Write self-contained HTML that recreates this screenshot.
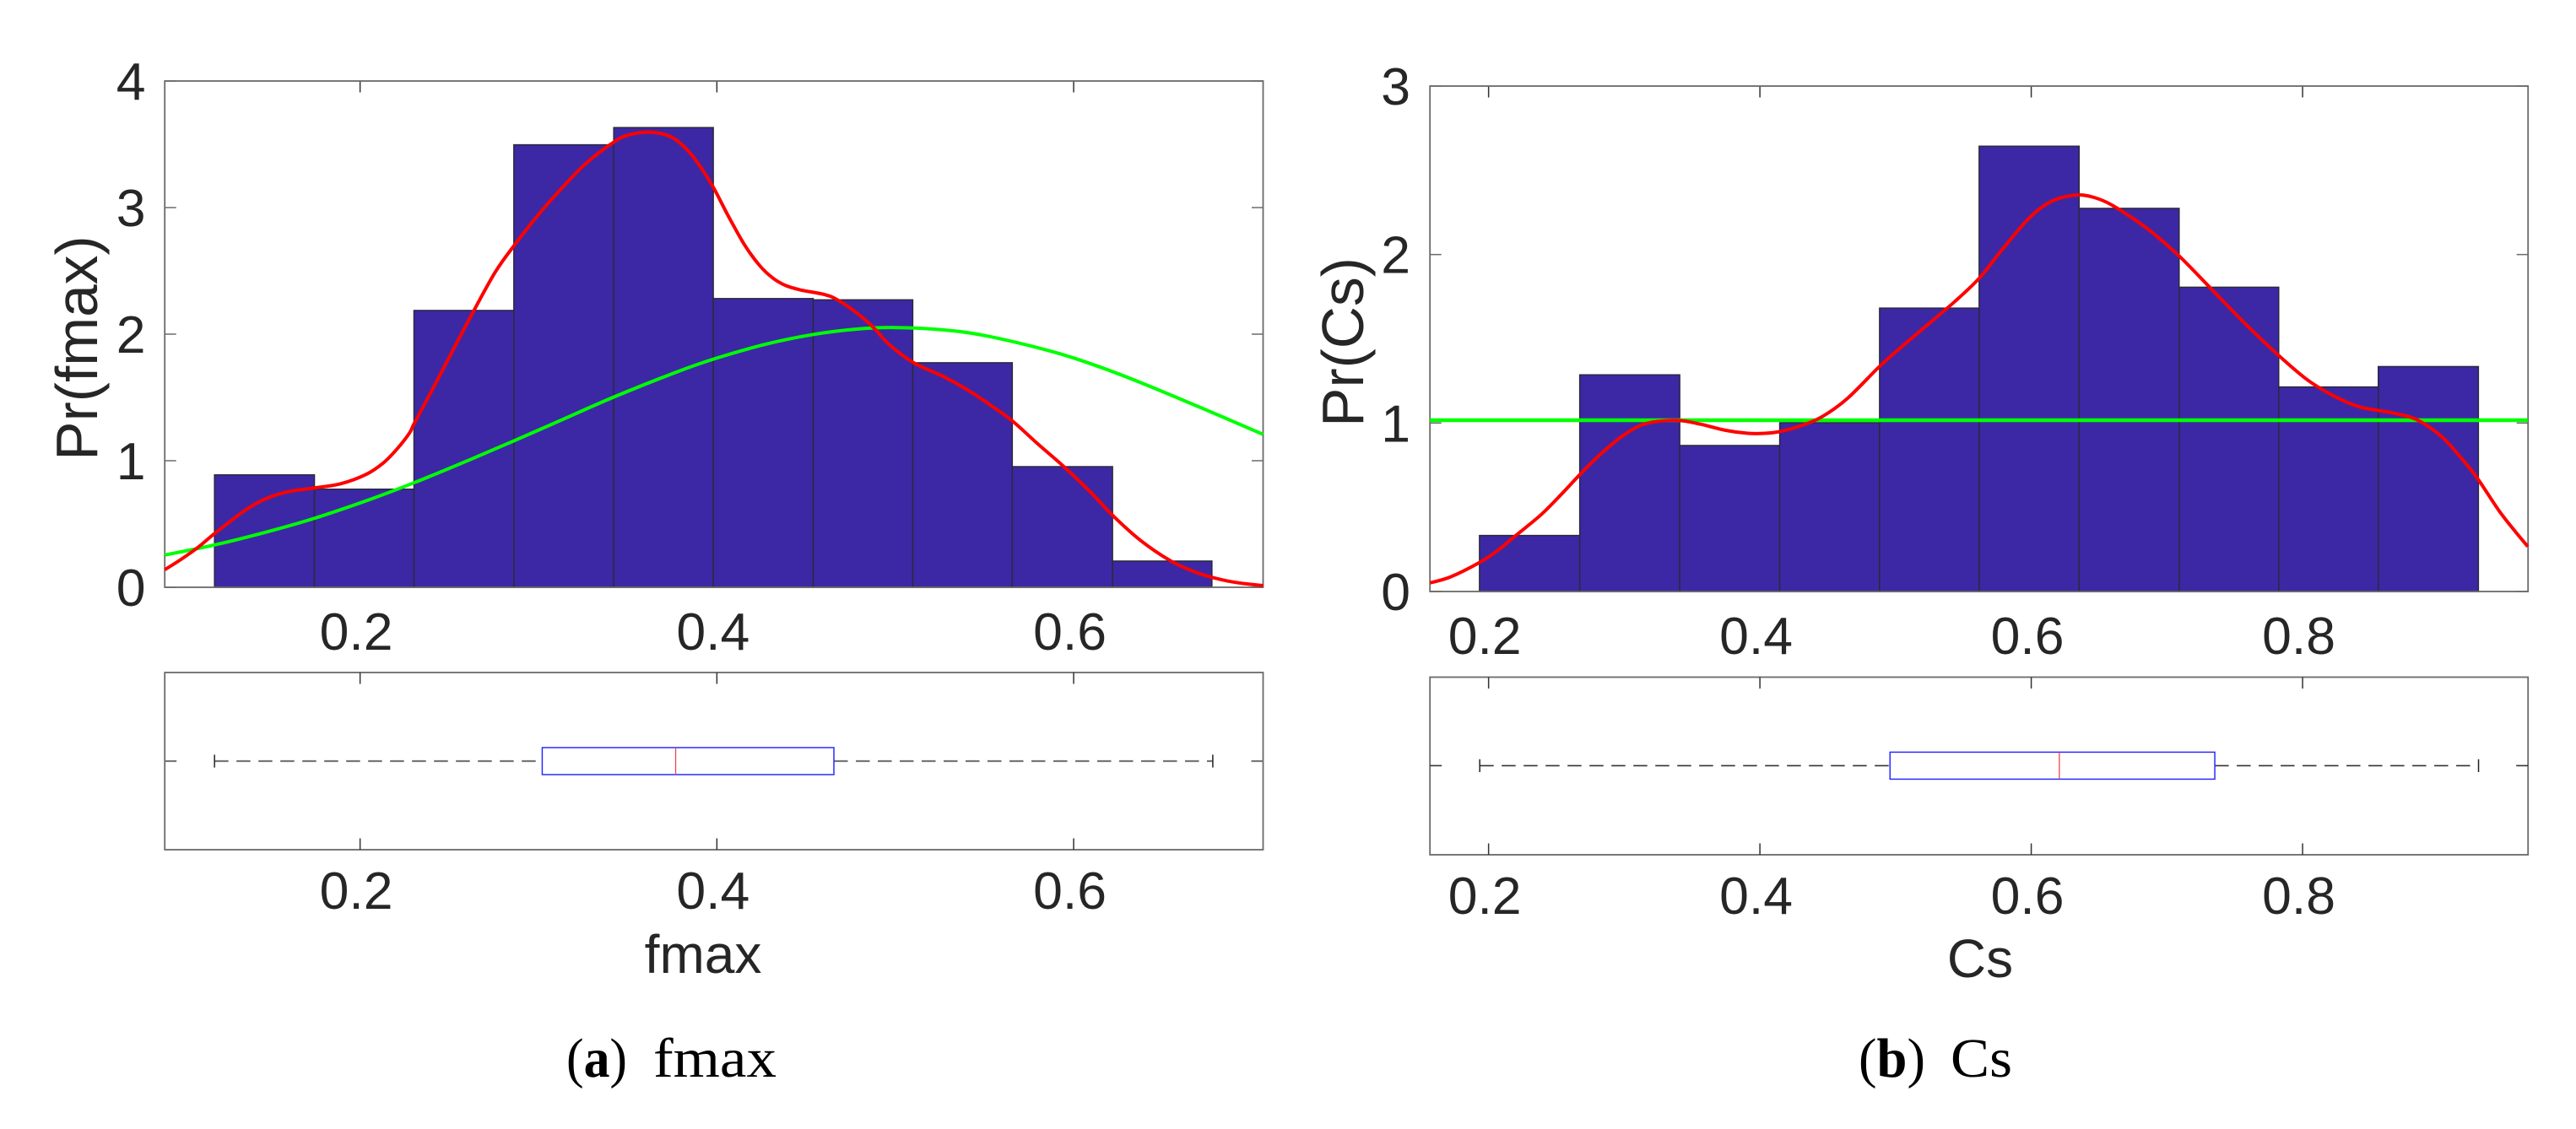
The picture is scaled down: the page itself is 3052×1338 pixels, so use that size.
<!DOCTYPE html>
<html lang="en">
<head>
<meta charset="utf-8">
<title>Distribution of fmax and Cs</title>
<style>
html,body{margin:0;padding:0;background:#fff;width:3052px;height:1338px;overflow:hidden}
svg{display:block}
.tick-label{font-family:"Liberation Sans",sans-serif;font-size:62.5px;fill:#262626}
.axis-title{font-family:"Liberation Sans",sans-serif;font-size:69.5px;fill:#262626}
.x-title{font-size:64px}
.caption{font-family:"Liberation Serif",serif;font-size:66px;fill:#000}
</style>
</head>
<body>
<svg id="figure" xmlns="http://www.w3.org/2000/svg" width="3052" height="1338" viewBox="0 0 3052 1338">
  <rect x="0" y="0" width="3052" height="1338" fill="#fff"/>
  <g id="panel-a"></g>
  <g id="panel-b"></g>
  <text class="axis-title" transform="translate(115 412.5) rotate(-90)" text-anchor="middle">Pr(fmax)</text>
  <text class="axis-title" transform="translate(1615 405.5) rotate(-90)" text-anchor="middle">Pr(Cs)</text>
  <text class="axis-title x-title" x="833" y="1153" text-anchor="middle">fmax</text>
  <text class="axis-title x-title" x="2346" y="1158" text-anchor="middle">Cs</text>
  <text class="caption" x="671" y="1276" textLength="72" lengthAdjust="spacingAndGlyphs">(<tspan font-weight="bold">a</tspan>)</text>
  <text class="caption" x="774" y="1276" textLength="146" lengthAdjust="spacingAndGlyphs">fmax</text>
  <text class="caption" x="2202" y="1276" textLength="79" lengthAdjust="spacingAndGlyphs">(<tspan font-weight="bold">b</tspan>)</text>
  <text class="caption" x="2311" y="1276" textLength="73" lengthAdjust="spacingAndGlyphs">Cs</text>
</svg>
<script>
// ---- fmax panel data ----
const fmaxBinEdges = [0.1184,0.1744,0.2302,0.2862,0.3422,0.3980,0.4540,0.5098,0.5656,0.6218,0.6775];
const fmaxDensity = [0.888,0.775,2.187,3.496,3.632,2.281,2.271,1.774,0.953,0.207];
const fmaxKdeX = [0.0905,0.0996,0.1093,0.1189,0.1358,0.1479,0.16,0.1744,0.1889,0.2034,0.213,0.2203,0.2275,0.2304,0.2396,0.2516,0.2637,0.2758,0.2864,0.2999,0.312,0.3264,0.3424,0.3506,0.3626,0.3735,0.3807,0.3879,0.3976,0.406,0.4157,0.4241,0.4314,0.4386,0.447,0.4603,0.4676,0.4784,0.4881,0.4965,0.5103,0.5267,0.5412,0.5532,0.5658,0.5798,0.5943,0.6087,0.6223,0.6377,0.6546,0.669,0.6835,0.6956,0.7062];
const fmaxKdeY = [0.139,0.22,0.317,0.43,0.611,0.704,0.756,0.785,0.817,0.892,0.982,1.086,1.215,1.296,1.538,1.861,2.184,2.491,2.701,2.943,3.137,3.347,3.519,3.574,3.596,3.564,3.493,3.38,3.17,2.944,2.701,2.54,2.443,2.384,2.349,2.313,2.271,2.168,2.048,1.919,1.774,1.667,1.554,1.441,1.312,1.134,0.956,0.763,0.562,0.368,0.207,0.116,0.058,0.029,0.013];
const fmaxNormalX = [0.0905,0.1189,0.1479,0.1744,0.2034,0.2304,0.2589,0.2864,0.312,0.3424,0.3767,0.3988,0.4278,0.4543,0.4784,0.5001,0.5267,0.5508,0.587,0.6112,0.6353,0.6715,0.7062];
const fmaxNormalY = [0.255,0.336,0.438,0.545,0.683,0.827,0.992,1.158,1.316,1.504,1.697,1.806,1.922,1.998,2.04,2.052,2.034,1.987,1.866,1.758,1.63,1.418,1.208];
const fmaxXTicks = [0.2,0.4,0.6];
const fmaxXTickLabels = ['0.2','0.4','0.6'];
const fmaxYTicks = [0,1,2,3,4];
const fmaxYTickLabels = ['0','1','2','3','4'];
const fmaxBoxStats = [0.1184,0.3021,0.3769,0.4656,0.678];

// ---- Cs panel data ----
const csBinEdges = [0.1933,0.2672,0.3409,0.4146,0.4882,0.5616,0.6353,0.7090,0.7824,0.8558,0.9296];
const csDensity = [0.3325,1.286,0.8665,1.002,1.682,2.643,2.274,1.806,1.214,1.335];
const csKdeX = [0.1568,0.1721,0.1933,0.207,0.2197,0.2387,0.2546,0.2673,0.2832,0.2991,0.3117,0.3244,0.341,0.3562,0.3752,0.3911,0.4038,0.4146,0.4292,0.4451,0.4641,0.4883,0.5054,0.5213,0.5435,0.5616,0.5785,0.5964,0.6083,0.6203,0.6352,0.6471,0.659,0.6769,0.6918,0.7088,0.7246,0.7425,0.7604,0.7821,0.8021,0.817,0.8319,0.8438,0.8554,0.8706,0.8855,0.9034,0.9183,0.929,0.9451,0.957,0.966];
const csKdeY = [0.051,0.087,0.172,0.245,0.33,0.456,0.585,0.694,0.82,0.925,0.985,1.01,1.015,0.993,0.956,0.939,0.939,0.949,0.981,1.034,1.143,1.337,1.459,1.568,1.72,1.859,2.029,2.199,2.284,2.333,2.354,2.337,2.296,2.204,2.114,1.993,1.864,1.714,1.568,1.403,1.265,1.187,1.126,1.092,1.075,1.053,1.015,0.913,0.779,0.67,0.476,0.354,0.267];
const csNormalX = [0.1568,0.35,0.55,0.75,0.966];
const csNormalY = [1.017,1.017,1.017,1.017,1.017];
const csXTicks = [0.2,0.4,0.6,0.8];
const csXTickLabels = ['0.2','0.4','0.6','0.8'];
const csYTicks = [0,1,2,3];
const csYTickLabels = ['0','1','2','3'];
const csBoxStats = [0.1935,0.4959,0.6207,0.7353,0.9297];

const NS = 'http://www.w3.org/2000/svg';
function mk(parent, tag, props) {
  const el = document.createElementNS(NS, tag);
  for (const k in props) el.setAttribute(k, props[k]);
  parent.appendChild(el);
  return el;
}
function linear(d0, d1, r0, r1) {
  return v => r0 + (v - d0) / (d1 - d0) * (r1 - r0);
}
function smoothPath(xs, ys, sx, sy) {
  const p = xs.map((x, i) => [sx(x), sy(ys[i])]);
  let d = 'M' + p[0][0].toFixed(2) + ' ' + p[0][1].toFixed(2);
  for (let i = 0; i < p.length - 1; i++) {
    const a = p[Math.max(i - 1, 0)], b = p[i], c = p[i + 1], e = p[Math.min(i + 2, p.length - 1)];
    const c1x = b[0] + (c[0] - a[0]) / 6, c1y = b[1] + (c[1] - a[1]) / 6;
    const c2x = c[0] - (e[0] - b[0]) / 6, c2y = c[1] - (e[1] - b[1]) / 6;
    d += 'C' + [c1x, c1y, c2x, c2y, c[0], c[1]].map(n => n.toFixed(2)).join(' ');
  }
  return d;
}

function drawPanel(root, cfg) {
  const sx = linear(cfg.xMin, cfg.xMax, cfg.left, cfg.right);
  const sy = linear(cfg.yTicks[0], cfg.yTicks[cfg.yTicks.length - 1], cfg.histBottom, cfg.histTop);
  const tickLen = 13.5;
  const axisColor = '#6a6a6a';

  // histogram axis background ticks
  cfg.xTicks.forEach((t, i) => {
    const x = sx(t);
    const top = mk(root, 'line', {x1: x, x2: x, y1: cfg.histTop, y2: cfg.histTop + tickLen, stroke: '#333', 'stroke-width': 1.5});
    
    
    const bot = mk(root, 'line', {x1: x, x2: x, y1: cfg.histBottom, y2: cfg.histBottom - tickLen, stroke: '#333', 'stroke-width': 1.5});
    
    
    const label = mk(root, 'text', {x: x - 4.5, y: cfg.histLabelY, 'text-anchor': 'middle', class: 'tick-label'});
    label.textContent = cfg.xTickLabels[i];
    
    
  });
  cfg.yTicks.forEach((t, i) => {
    const y = sy(t);
    const lft = mk(root, 'line', {x1: cfg.left, x2: cfg.left + tickLen, y1: y, y2: y, stroke: axisColor, 'stroke-width': 1.5});
    
    
    const rgt = mk(root, 'line', {x1: cfg.right, x2: cfg.right - tickLen, y1: y, y2: y, stroke: axisColor, 'stroke-width': 1.5});
    
    
    const label = mk(root, 'text', {x: cfg.yLabelX, y: y + 22, 'text-anchor': 'end', class: 'tick-label'});
    label.textContent = cfg.yTickLabels[i];
    
    
  });

  // histogram bars
  cfg.density.forEach((v, i) => {
    const x0 = sx(cfg.edges[i]), x1 = sx(cfg.edges[i + 1]), y = sy(v);
    const bar = mk(root, 'rect', {x: x0, y: y, width: x1 - x0, height: sy(0) - y, fill: '#3c28a5', stroke: '#2a2a3a', 'stroke-width': 1.5});
    
    
  });

  // histogram frame
  const frame = mk(root, 'rect', {x: cfg.left, y: cfg.histTop, width: cfg.right - cfg.left, height: cfg.histBottom - cfg.histTop, fill: 'none', stroke: axisColor, 'stroke-width': 1.8});
  
  

  // curves
  const normal = mk(root, 'path', {d: smoothPath(cfg.normalX, cfg.normalY, sx, sy), fill: 'none', stroke: '#00ff00', 'stroke-width': cfg.normalWidth});
  
  
  const kde = mk(root, 'path', {d: smoothPath(cfg.kdeX, cfg.kdeY, sx, sy), fill: 'none', stroke: '#ff0000', 'stroke-width': 4});
  
  

  // box plot axes
  const bf = mk(root, 'rect', {x: cfg.left, y: cfg.boxTop, width: cfg.right - cfg.left, height: cfg.boxBottom - cfg.boxTop, fill: 'none', stroke: axisColor, 'stroke-width': 1.8});
  
  
  cfg.xTicks.forEach((t, i) => {
    const x = sx(t);
    const top = mk(root, 'line', {x1: x, x2: x, y1: cfg.boxTop, y2: cfg.boxTop + tickLen, stroke: '#333', 'stroke-width': 1.5});
    
    
    const bot = mk(root, 'line', {x1: x, x2: x, y1: cfg.boxBottom, y2: cfg.boxBottom - tickLen, stroke: '#333', 'stroke-width': 1.5});
    
    
    const label = mk(root, 'text', {x: x - 4.5, y: cfg.boxLabelY, 'text-anchor': 'middle', class: 'tick-label'});
    label.textContent = cfg.xTickLabels[i];
    
    
  });

  // box plot marks
  const [lo, q1, med, q3, hi] = cfg.box;
  const cy = cfg.boxMid;
  const dashStyle = {stroke: cfg.dashColor, 'stroke-width': cfg.dashWidth, 'stroke-dasharray': '16.5 9.5', fill: 'none'};
  const wl = mk(root, 'line', Object.assign({x1: sx(lo), x2: sx(q1), y1: cy, y2: cy}, dashStyle));
  
  
  const wh = mk(root, 'line', Object.assign({x1: sx(q3), x2: sx(hi), y1: cy, y2: cy}, dashStyle));
  
  
  const sl = mk(root, 'line', {x1: cfg.left, x2: cfg.left + 14, y1: cy, y2: cy, stroke: cfg.dashColor, 'stroke-width': cfg.dashWidth});
  
  
  const sr = mk(root, 'line', {x1: cfg.right - 14, x2: cfg.right, y1: cy, y2: cy, stroke: cfg.dashColor, 'stroke-width': cfg.dashWidth});
  
  
  const cl = mk(root, 'line', {x1: sx(lo), x2: sx(lo), y1: cy - 7.6, y2: cy + 7.6, stroke: '#222', 'stroke-width': 1.5});
  
  
  const ch = mk(root, 'line', {x1: sx(hi), x2: sx(hi), y1: cy - 7.6, y2: cy + 7.6, stroke: '#222', 'stroke-width': 1.5});
  
  
  const box = mk(root, 'rect', {x: sx(q1), y: cy - 16, width: sx(q3) - sx(q1), height: 32, fill: '#fff', stroke: '#2a2aff', 'stroke-width': 1.5});
  
  
  const ml = mk(root, 'line', {x1: sx(med), x2: sx(med), y1: cy - 16, y2: cy + 16, stroke: '#f0444c', 'stroke-width': 1.3});
  
  
}

drawPanel(document.getElementById('panel-a'), {
  left: 195.2, right: 1496.5, xMin: 0.0905, xMax: 0.7062,
  histTop: 96, histBottom: 696, boxTop: 797, boxBottom: 1007, boxMid: 902,
  histLabelY: 770, boxLabelY: 1077, yLabelX: 172.5,
  edges: fmaxBinEdges, density: fmaxDensity,
  kdeX: fmaxKdeX, kdeY: fmaxKdeY, normalX: fmaxNormalX, normalY: fmaxNormalY, normalWidth: 4,
  xTicks: fmaxXTicks, xTickLabels: fmaxXTickLabels, yTicks: fmaxYTicks, yTickLabels: fmaxYTickLabels,
  box: fmaxBoxStats, dashColor: '#777', dashWidth: 2.2
});
drawPanel(document.getElementById('panel-b'), {
  left: 1694.2, right: 2995.2, xMin: 0.1568, xMax: 0.9662,
  histTop: 102, histBottom: 701, boxTop: 802.5, boxBottom: 1013, boxMid: 907.4,
  histLabelY: 775, boxLabelY: 1083, yLabelX: 1671,
  edges: csBinEdges, density: csDensity,
  kdeX: csKdeX, kdeY: csKdeY, normalX: csNormalX, normalY: csNormalY, normalWidth: 4.5,
  xTicks: csXTicks, xTickLabels: csXTickLabels, yTicks: csYTicks, yTickLabels: csYTickLabels,
  box: csBoxStats, dashColor: '#333', dashWidth: 1.6
});
</script>
</body>
</html>
